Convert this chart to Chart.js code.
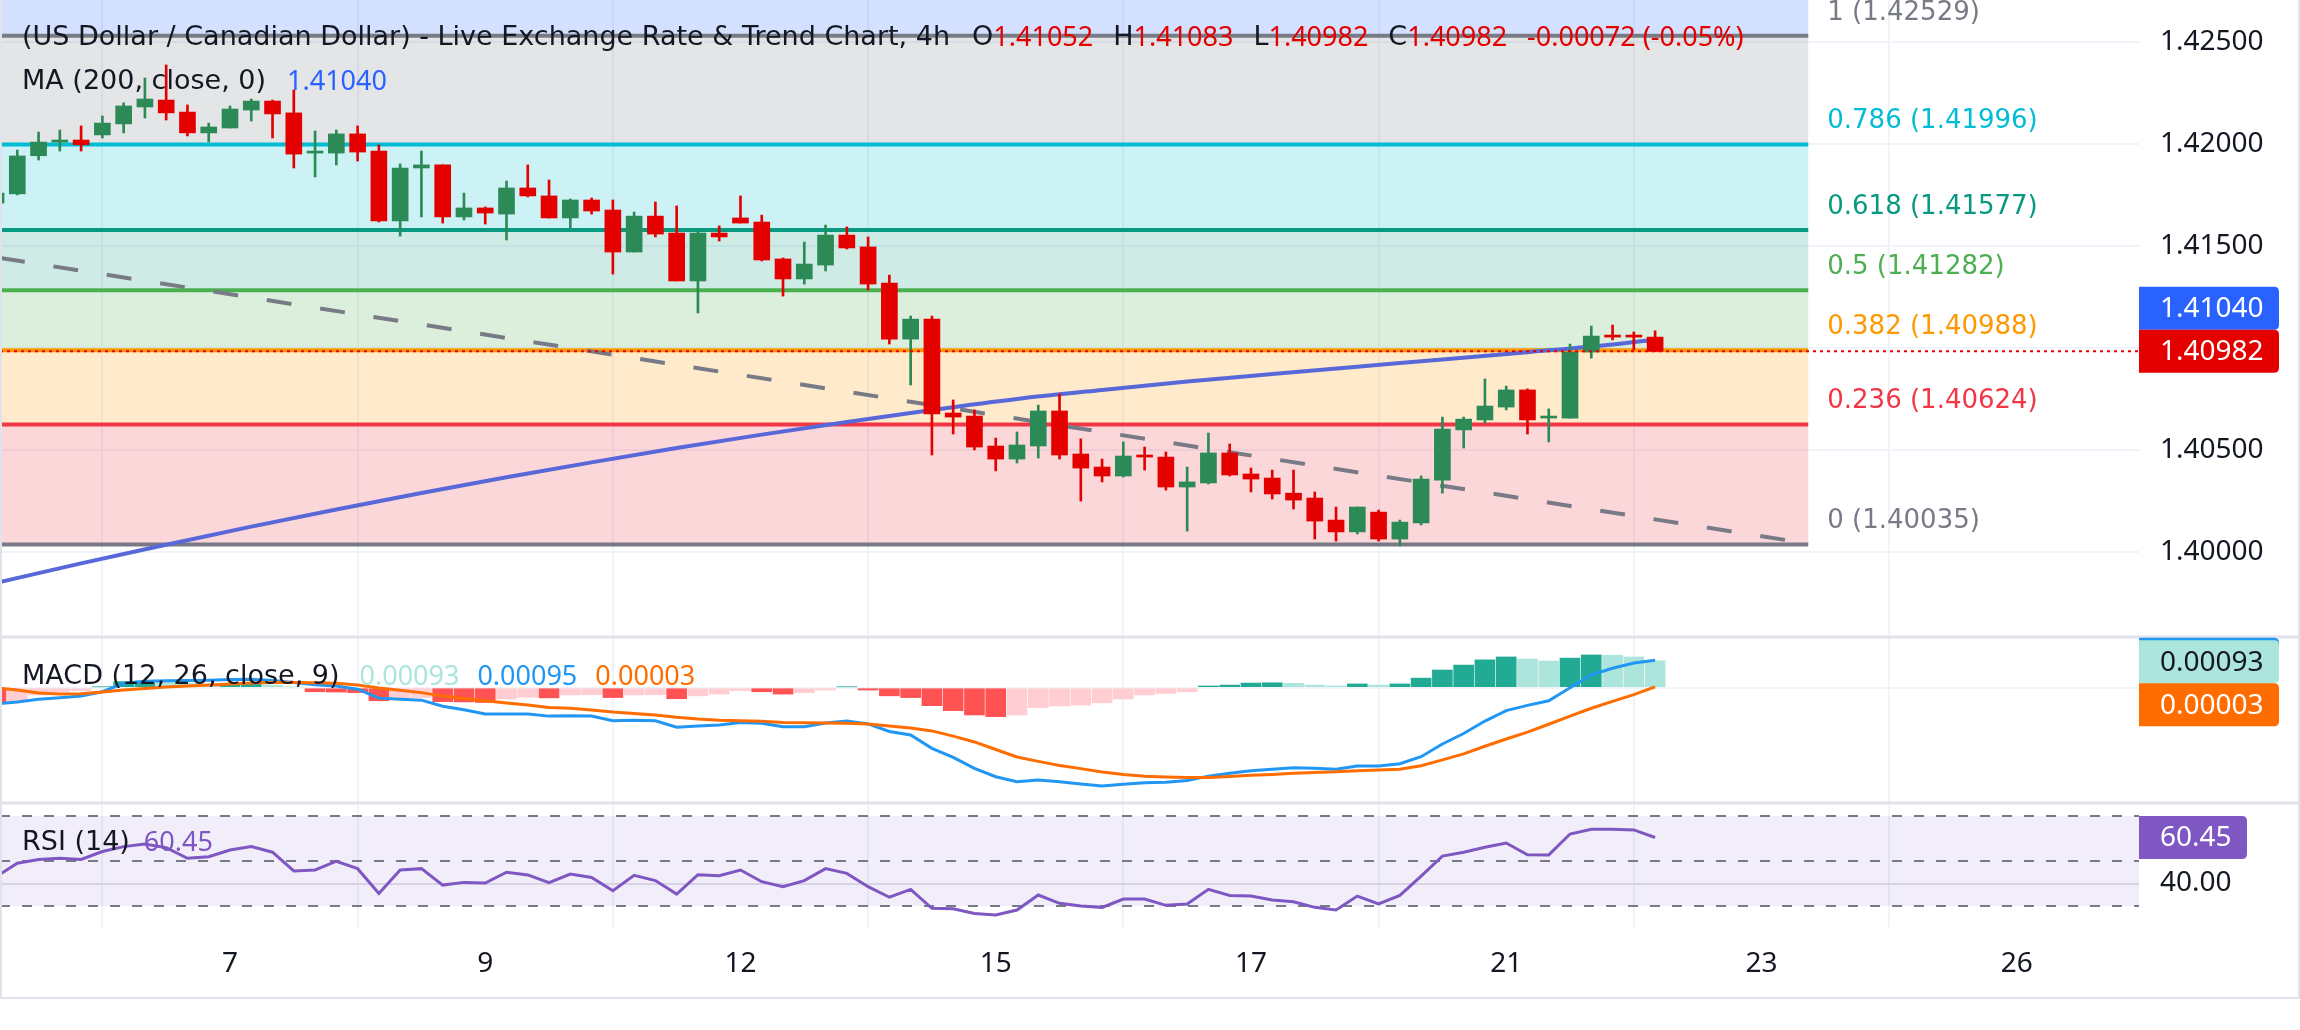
<!DOCTYPE html>
<html>
<head>
<meta charset="utf-8">
<title>USD/CAD 4h</title>
<script src="https://cdn.jsdelivr.net/npm/chart.js@4.4.1/dist/chart.umd.min.js"></script>
<style>
  html, body { margin: 0; padding: 0; background: #ffffff; }
  #wrap { position: relative; width: 2300px; height: 1030px; }
</style>
</head>
<body>
<div id="wrap"><canvas id="usdcad" width="2300" height="1030"></canvas></div>
<script>
// first candle sits at index -1 (half hidden on the left edge)
const candleStart = -1;

const openPrices = [
  1.41709,
  1.41754, 1.41941, 1.42008, 1.42018, 1.42043, 1.42097, 1.42180, 1.42214, 1.42155, 1.42053,
  1.42077, 1.42165, 1.42209, 1.42151, 1.41954, 1.41954, 1.42048, 1.41964, 1.41621, 1.41881,
  1.41896, 1.41641, 1.41685, 1.41655, 1.41783, 1.41744, 1.41636, 1.41724, 1.41675, 1.41469,
  1.41645, 1.41562, 1.41327, 1.41562, 1.41636, 1.41616, 1.41435, 1.41337, 1.41405, 1.41552,
  1.41494, 1.41317, 1.41042, 1.41140, 1.40680, 1.40665, 1.40518, 1.40454, 1.40518, 1.40690,
  1.40479, 1.40415, 1.40371, 1.40474, 1.40464, 1.40317, 1.40337, 1.40484, 1.40381, 1.40361,
  1.40287, 1.40263, 1.40155, 1.40097, 1.40194, 1.40062, 1.40141, 1.40351, 1.40597, 1.40646,
  1.40709, 1.40793, 1.40655, 1.40655, 1.40979, 1.41062, 1.41062, 1.41052
];
const highPrices = [
  1.41773,
  1.41969, 1.42057, 1.42067, 1.42087, 1.42136, 1.42200, 1.42322, 1.42386, 1.42190, 1.42101,
  1.42185, 1.42219, 1.42214, 1.42263, 1.42062, 1.42067, 1.42087, 1.41994, 1.41901, 1.41964,
  1.41896, 1.41758, 1.41690, 1.41817, 1.41896, 1.41822, 1.41729, 1.41734, 1.41724, 1.41665,
  1.41714, 1.41695, 1.41577, 1.41597, 1.41744, 1.41650, 1.41440, 1.41518, 1.41601, 1.41592,
  1.41543, 1.41356, 1.41155, 1.41155, 1.40744, 1.40695, 1.40557, 1.40587, 1.40719, 1.40773,
  1.40553, 1.40454, 1.40538, 1.40513, 1.40489, 1.40415, 1.40582, 1.40528, 1.40410, 1.40400,
  1.40400, 1.40293, 1.40219, 1.40219, 1.40204, 1.40155, 1.40371, 1.40660, 1.40660, 1.40847,
  1.40812, 1.40798, 1.40700, 1.41018, 1.41106, 1.41111, 1.41077, 1.41083
];
const lowPrices = [
  1.41695,
  1.41749, 1.41920, 1.41964, 1.41964, 1.42028, 1.42053, 1.42126, 1.42116, 1.42038, 1.42008,
  1.42077, 1.42111, 1.42028, 1.41881, 1.41837, 1.41896, 1.41915, 1.41616, 1.41547, 1.41641,
  1.41611, 1.41626, 1.41606, 1.41528, 1.41739, 1.41636, 1.41587, 1.41655, 1.41361, 1.41469,
  1.41543, 1.41327, 1.41170, 1.41523, 1.41611, 1.41425, 1.41253, 1.41312, 1.41376, 1.41484,
  1.41283, 1.41018, 1.40817, 1.40474, 1.40577, 1.40499, 1.40396, 1.40435, 1.40459, 1.40454,
  1.40248, 1.40342, 1.40366, 1.40400, 1.40302, 1.40101, 1.40332, 1.40371, 1.40293, 1.40258,
  1.40209, 1.40062, 1.40052, 1.40087, 1.40052, 1.40028, 1.40131, 1.40287, 1.40508, 1.40631,
  1.40695, 1.40577, 1.40538, 1.40655, 1.40949, 1.41038, 1.40989, 1.40982
];
const closePrices = [
  1.41758,
  1.41940, 1.42008, 1.42018, 1.41995, 1.42101, 1.42185, 1.42219, 1.42151, 1.42053, 1.42082,
  1.42170, 1.42209, 1.42146, 1.41949, 1.41964, 1.42048, 1.41959, 1.41621, 1.41881, 1.41896,
  1.41641, 1.41685, 1.41660, 1.41783, 1.41744, 1.41636, 1.41724, 1.41670, 1.41469, 1.41645,
  1.41557, 1.41327, 1.41562, 1.41543, 1.41611, 1.41430, 1.41337, 1.41410, 1.41552, 1.41489,
  1.41312, 1.41042, 1.41140, 1.40675, 1.40660, 1.40513, 1.40454, 1.40523, 1.40690, 1.40474,
  1.40410, 1.40371, 1.40469, 1.40464, 1.40317, 1.40342, 1.40484, 1.40376, 1.40356, 1.40283,
  1.40253, 1.40150, 1.40097, 1.40219, 1.40062, 1.40145, 1.40356, 1.40601, 1.40650, 1.40714,
  1.40793, 1.40646, 1.40665, 1.40979, 1.41057, 1.41052, 1.41052, 1.40982
];

// MA(200) read every few bars
const maIdx = [-1, 3, 7, 11, 15, 19, 23, 27, 31, 35, 39, 43, 47, 51, 55, 59, 63, 67, 71, 75, 77];
const maValues = [1.39847, 1.39943, 1.40034, 1.40123, 1.40207, 1.40288, 1.40365, 1.40438, 1.40508, 1.40574,
  1.40636, 1.40695, 1.40749, 1.40793, 1.40834, 1.40871, 1.40907, 1.40942, 1.40978, 1.41016, 1.41040];

// dashed trend line (two anchors)
const trendIdx = [-0.81, 84.2];
const trendValues = [1.41440, 1.40040];

// fibonacci retracement
const fibLevels = [1.618, 1, 0.786, 0.618, 0.5, 0.382, 0.236, 0];
const fibPrices = [1.44070, 1.42529, 1.41996, 1.41577, 1.41282, 1.40988, 1.40624, 1.40035];
const fibColors = ['#2962ff', '#787b86', '#00bcd4', '#089981', '#4caf50', '#ff9800', '#f23645', '#787b86'];
const fibFrom = -1;
const fibTo = 84.2;

// MACD (12, 26, 9)
const macdLine = [
  -0.00056,
  -0.00049, -0.00040, -0.00035, -0.00029, -0.00014, 0.00015, 0.00022, 0.00024, 0.00025, 0.00026,
  0.00028, 0.00029, 0.00025, 0.00018, 0.00010, 0.00006, -0.00005, -0.00036, -0.00040, -0.00043,
  -0.00064, -0.00076, -0.00091, -0.00091, -0.00091, -0.00098, -0.00097, -0.00098, -0.00114, -0.00112,
  -0.00114, -0.00136, -0.00132, -0.00129, -0.00120, -0.00123, -0.00135, -0.00135, -0.00122, -0.00115,
  -0.00125, -0.00151, -0.00163, -0.00209, -0.00240, -0.00278, -0.00307, -0.00324, -0.00318, -0.00324,
  -0.00332, -0.00339, -0.00333, -0.00328, -0.00326, -0.00320, -0.00305, -0.00295, -0.00286, -0.00281,
  -0.00276, -0.00278, -0.00281, -0.00270, -0.00270, -0.00262, -0.00238, -0.00194, -0.00158, -0.00115,
  -0.00079, -0.00061, -0.00045, 0.00000, 0.00044, 0.00067, 0.00085, 0.00095
];
const signalLine = [
  0.00000,
  -0.00008, -0.00018, -0.00022, -0.00021, -0.00015, -0.00008, -0.00003, 0.00002, 0.00006, 0.00009,
  0.00013, 0.00016, 0.00018, 0.00018, 0.00017, 0.00015, 0.00009, -0.00001, -0.00009, -0.00017,
  -0.00029, -0.00037, -0.00045, -0.00053, -0.00060, -0.00068, -0.00071, -0.00077, -0.00084, -0.00089,
  -0.00094, -0.00102, -0.00108, -0.00112, -0.00114, -0.00116, -0.00120, -0.00121, -0.00122, -0.00123,
  -0.00125, -0.00132, -0.00139, -0.00149, -0.00167, -0.00187, -0.00213, -0.00239, -0.00254, -0.00268,
  -0.00279, -0.00291, -0.00299, -0.00305, -0.00308, -0.00310, -0.00310, -0.00306, -0.00302, -0.00299,
  -0.00295, -0.00292, -0.00290, -0.00286, -0.00284, -0.00281, -0.00269, -0.00249, -0.00228, -0.00202,
  -0.00177, -0.00153, -0.00126, -0.00098, -0.00071, -0.00047, -0.00024, 0.00003
];
const macdHist = [
  -0.00050,
  -0.00048, -0.00025, -0.00014, -0.00010, 0.00003, 0.00021, 0.00023, 0.00022, 0.00016, 0.00012,
  0.00015, 0.00016, 0.00009, 0.00003, -0.00014, -0.00015, -0.00017, -0.00045, -0.00037, -0.00034,
  -0.00048, -0.00049, -0.00051, -0.00039, -0.00033, -0.00035, -0.00025, -0.00024, -0.00034, -0.00025,
  -0.00024, -0.00038, -0.00028, -0.00022, -0.00010, -0.00014, -0.00022, -0.00017, -0.00008, 0.00003,
  -0.00008, -0.00028, -0.00034, -0.00062, -0.00079, -0.00094, -0.00100, -0.00094, -0.00069, -0.00063,
  -0.00060, -0.00052, -0.00039, -0.00025, -0.00020, -0.00014, 0.00006, 0.00009, 0.00016, 0.00017,
  0.00015, 0.00009, 0.00006, 0.00013, 0.00009, 0.00013, 0.00033, 0.00061, 0.00078, 0.00096,
  0.00106, 0.00099, 0.00092, 0.00102, 0.00113, 0.00112, 0.00106, 0.00093
];

// RSI (14)
const rsiValues = [
  43.0,
  49.0, 50.7, 51.2, 50.7, 54.2, 56.4, 57.6, 55.9, 51.2, 51.9,
  54.9, 56.4, 53.9, 45.6, 46.0, 49.9, 46.6, 35.6, 46.0, 46.6,
  39.3, 40.5, 40.2, 45.0, 43.8, 40.4, 44.2, 42.7, 36.8, 43.6,
  41.3, 35.3, 43.9, 43.5, 46.0, 40.8, 38.6, 41.3, 46.6, 44.5,
  38.6, 33.9, 37.4, 29.0, 28.8, 26.7, 26.0, 28.2, 34.9, 31.2,
  30.0, 29.4, 33.1, 33.1, 30.3, 30.9, 37.4, 34.7, 34.4, 32.7,
  31.9, 29.4, 28.2, 34.4, 30.9, 34.7, 43.3, 52.2, 53.9, 56.1,
  58.0, 52.8, 52.7, 62.0, 64.1, 64.1, 63.8, 60.45
];
const rsiBands = [70, 50, 30];

// axes
const xTickIdx = [10, 22, 34, 46, 58, 70, 82, 94];
const xTickLabels = ['7', '9', '12', '15', '17', '21', '23', '26'];
const priceTicks = [1.400, 1.405, 1.410, 1.415, 1.420, 1.425];
const macdTicks = [0];
const rsiTicks = [40];

const legendTitle = '(US Dollar / Canadian Dollar) - Live Exchange Rate & Trend Chart, 4h';
const legendOHLC = [['O', '1.41052'], ['H', '1.41083'], ['L', '1.40982'], ['C', '1.40982']];
const legendChange = '-0.00072 (-0.05%)';

const FONT = '"Noto Sans", "DejaVu Sans", sans-serif';
const LEGEND_FONT = '27px "DejaVu Sans", sans-serif';
const NUM_FONT = '27px "Noto Sans", sans-serif';
const FIB_FONT = '26px "DejaVu Sans", sans-serif';
const TEXT_DARK = '#131722';
const UP = '#2c8a56';
const DOWN = '#e50000';
const GRID = '#f0f3fa';

const idx = openPrices.map((_, i) => i + candleStart);
const candleColors = openPrices.map((o, i) => closePrices[i] >= o ? UP : DOWN);
const last = openPrices.length - 1;

function histColor(v, i) {
  const prev = i > 0 ? macdHist[i - 1] : v;
  if (v >= 0) return v > prev ? '#22ab94' : '#ace5dc';
  return v > prev ? '#ffcdd2' : '#ff5252';
}

function boxPath(ctx, x, y, w, h, r) {
  ctx.beginPath();
  ctx.moveTo(x, y);
  ctx.lineTo(x + w - r, y);
  ctx.quadraticCurveTo(x + w, y, x + w, y + r);
  ctx.lineTo(x + w, y + h - r);
  ctx.quadraticCurveTo(x + w, y + h, x + w - r, y + h);
  ctx.lineTo(x, y + h);
  ctx.closePath();
}

function axisBox(ctx, x, top, w, h, bg, fg, text) {
  ctx.fillStyle = bg;
  boxPath(ctx, x, top, w, h, 5);
  ctx.fill();
  ctx.fillStyle = fg;
  ctx.font = '28px ' + FONT;
  ctx.textAlign = 'left';
  ctx.textBaseline = 'middle';
  ctx.fillText(text, x + 21, top + h / 2 + 1);
}

// draws text pieces one after another, returns end x
function drawPieces(ctx, x, y, pieces) {
  ctx.textAlign = 'left';
  ctx.textBaseline = 'middle';
  pieces.forEach(p => {
    x += p.gap || 0;
    ctx.font = p.num ? NUM_FONT : LEGEND_FONT;
    ctx.fillStyle = p.color;
    ctx.fillText(p.text, x, y);
    x += ctx.measureText(p.text).width;
  });
  return x;
}

// fixed axis sizes, no extra label padding around the plot
function fixRightAxis(s) {
  s.width = 161;
  s.paddingTop = 0;
  s.paddingBottom = 0;
}

const backgroundPlugin = {
  id: 'panesBackground',
  beforeDatasetsDraw(chart) {
    const { ctx, chartArea } = chart;
    const xs = chart.scales.x;
    const ys = chart.scales.y;
    const yr = chart.scales.yRsi;
    const x0 = xs.getPixelForValue(fibFrom);
    const x1 = xs.getPixelForValue(fibTo);

    ctx.save();
    ctx.beginPath();
    ctx.rect(chartArea.left, ys.top, chartArea.right - chartArea.left, ys.bottom - ys.top);
    ctx.clip();
    for (let i = 0; i < fibPrices.length - 1; i++) {
      const a = ys.getPixelForValue(fibPrices[i]);
      const b = ys.getPixelForValue(fibPrices[i + 1]);
      ctx.fillStyle = fibColors[i] + '33';
      ctx.fillRect(x0, a, x1 - x0, b - a);
    }
    ctx.lineWidth = 4;
    fibPrices.forEach((p, i) => {
      const py = ys.getPixelForValue(p);
      ctx.strokeStyle = fibColors[i];
      ctx.beginPath();
      ctx.moveTo(x0, py);
      ctx.lineTo(x1, py);
      ctx.stroke();
    });
    ctx.restore();

    // RSI band
    ctx.save();
    const rTop = yr.getPixelForValue(rsiBands[0]);
    const rBot = yr.getPixelForValue(rsiBands[rsiBands.length - 1]);
    ctx.fillStyle = 'rgba(126, 87, 194, 0.1)';
    ctx.fillRect(chartArea.left, rTop, chartArea.right - chartArea.left, rBot - rTop);
    ctx.strokeStyle = '#787b86';
    ctx.lineWidth = 2;
    ctx.setLineDash([10, 12]);
    rsiBands.forEach(v => {
      const py = Math.round(yr.getPixelForValue(v));
      ctx.beginPath();
      ctx.moveTo(chartArea.left, py);
      ctx.lineTo(chartArea.right, py);
      ctx.stroke();
    });
    ctx.restore();
  },
  afterDatasetsDraw(chart) {
    const { ctx, chartArea } = chart;
    const ys = chart.scales.y;
    const py = ys.getPixelForValue(closePrices[last]);
    ctx.save();
    ctx.strokeStyle = DOWN;
    ctx.lineWidth = 2;
    ctx.setLineDash([3, 4]);
    ctx.beginPath();
    ctx.moveTo(chartArea.left, py);
    ctx.lineTo(chartArea.right, py);
    ctx.stroke();
    ctx.restore();
  }
};

const overlayPlugin = {
  id: 'overlay',
  afterDraw(chart) {
    const { ctx, chartArea, width } = chart;
    const xs = chart.scales.x;
    const ys = chart.scales.y;
    const ym = chart.scales.yMacd;
    const yr = chart.scales.yRsi;
    ctx.save();

    // fib labels
    const lx = xs.getPixelForValue(fibTo) + 19;
    ctx.font = FIB_FONT;
    ctx.textAlign = 'left';
    ctx.textBaseline = 'middle';
    fibPrices.forEach((p, i) => {
      const py = ys.getPixelForValue(p);
      if (py < ys.top || py > ys.bottom) return;
      ctx.fillStyle = fibColors[i];
      ctx.fillText(fibLevels[i] + ' (' + p.toFixed(5) + ')', lx, py - 23);
    });

    // pane separators and frame
    ctx.strokeStyle = '#e0e3eb';
    ctx.lineWidth = 3;
    [ym.top, yr.top].forEach(y => {
      ctx.beginPath();
      ctx.moveTo(0, y);
      ctx.lineTo(width, y);
      ctx.stroke();
    });
    ctx.lineWidth = 2;
    ctx.beginPath();
    ctx.moveTo(1, 0);
    ctx.lineTo(1, xs.bottom);
    ctx.lineTo(width - 1, xs.bottom);
    ctx.lineTo(width - 1, 0);
    ctx.stroke();

    // legends
    const lx0 = 22;
    const pieces = [{ text: legendTitle, color: TEXT_DARK }];
    legendOHLC.forEach((o, i) => {
      pieces.push({ text: o[0], color: TEXT_DARK, gap: i === 0 ? 22 : 20 });
      pieces.push({ text: o[1], color: DOWN, num: true });
    });
    pieces.push({ text: legendChange, color: DOWN, gap: 20, num: true });
    drawPieces(ctx, lx0, ys.top + 38, pieces);
    drawPieces(ctx, lx0, ys.top + 82, [
      { text: 'MA (200, close, 0)', color: TEXT_DARK },
      { text: maValues[maValues.length - 1].toFixed(5), color: '#2962ff', gap: 21, num: true }
    ]);
    drawPieces(ctx, lx0, ym.top + 40, [
      { text: 'MACD (12, 26, close, 9)', color: TEXT_DARK },
      { text: macdHist[last].toFixed(5), color: '#ace5dc', gap: 20, num: true },
      { text: macdLine[last].toFixed(5), color: '#2196f3', gap: 18, num: true },
      { text: signalLine[last].toFixed(5), color: '#ff6d00', gap: 18, num: true }
    ]);
    drawPieces(ctx, lx0, yr.top + 40, [
      { text: 'RSI (14)', color: TEXT_DARK },
      { text: rsiValues[last].toFixed(2), color: '#7e57c2', gap: 14, num: true }
    ]);

    // price scale labels
    const bx = chartArea.right;
    const h = 43;
    const closeY = ys.getPixelForValue(closePrices[last]);
    axisBox(ctx, bx, closeY - h / 2 - h, 140, h, '#2962ff', '#ffffff', maValues[maValues.length - 1].toFixed(5));
    axisBox(ctx, bx, closeY - h / 2, 140, h, DOWN, '#ffffff', closePrices[last].toFixed(5));

    const histY = ym.getPixelForValue(macdHist[last]);
    axisBox(ctx, bx, ym.getPixelForValue(macdLine[last]) - h / 2 - 1, 140, h, '#2196f3', '#ffffff', '');
    axisBox(ctx, bx, histY - h / 2 + 1, 140, h, '#ace5dc', TEXT_DARK, macdHist[last].toFixed(5));
    axisBox(ctx, bx, histY + h / 2 + 1, 140, h, '#ff6d00', '#ffffff', signalLine[last].toFixed(5));

    const rsiY = yr.getPixelForValue(rsiValues[last]);
    axisBox(ctx, bx, rsiY - h / 2, 108, h, '#7e57c2', '#ffffff', rsiValues[last].toFixed(2));

    ctx.restore();
  }
};

const ctx = document.getElementById('usdcad').getContext('2d');
const chart = new Chart(ctx, {
  type: 'bar',
  data: {
    datasets: [
      {
        label: 'body',
        data: idx.map((x, i) => ({ x: x, y: [openPrices[i], closePrices[i]] })),
        backgroundColor: candleColors,
        barThickness: 16,
        minBarLength: 2,
        grouped: false,
        yAxisID: 'y',
        order: 1
      },
      {
        label: 'wick',
        data: idx.map((x, i) => ({ x: x, y: [lowPrices[i], highPrices[i]] })),
        backgroundColor: candleColors,
        barThickness: 2,
        grouped: false,
        yAxisID: 'y',
        order: 2
      },
      {
        type: 'line',
        label: 'MA 200',
        data: maIdx.map((x, i) => ({ x: x, y: maValues[i] })),
        borderColor: '#5868d8',
        borderWidth: 4,
        pointRadius: 0,
        cubicInterpolationMode: 'monotone',
        yAxisID: 'y',
        order: 3
      },
      {
        type: 'line',
        label: 'trend',
        data: trendIdx.map((x, i) => ({ x: x, y: trendValues[i] })),
        borderColor: '#787b86',
        borderWidth: 4,
        borderDash: [25, 29],
        pointRadius: 0,
        yAxisID: 'y',
        order: 4
      },
      {
        label: 'histogram',
        data: idx.map((x, i) => ({ x: x, y: macdHist[i] })),
        backgroundColor: macdHist.map(histColor),
        barThickness: 20,
        grouped: false,
        yAxisID: 'yMacd',
        order: 7
      },
      {
        type: 'line',
        label: 'MACD',
        data: idx.map((x, i) => ({ x: x, y: macdLine[i] })),
        borderColor: '#2196f3',
        borderWidth: 3,
        pointRadius: 0,
        yAxisID: 'yMacd',
        order: 6
      },
      {
        type: 'line',
        label: 'Signal',
        data: idx.map((x, i) => ({ x: x, y: signalLine[i] })),
        borderColor: '#ff6d00',
        borderWidth: 3,
        pointRadius: 0,
        yAxisID: 'yMacd',
        order: 5
      },
      {
        type: 'line',
        label: 'RSI',
        data: idx.map((x, i) => ({ x: x, y: rsiValues[i] })),
        borderColor: '#7e57c2',
        borderWidth: 3,
        pointRadius: 0,
        yAxisID: 'yRsi',
        order: 8
      }
    ]
  },
  options: {
    responsive: false,
    animation: false,
    devicePixelRatio: 1,
    layout: { padding: { left: 0, right: 0, top: 0, bottom: 32 } },
    plugins: { legend: { display: false }, tooltip: { enabled: false } },
    scales: {
      x: {
        type: 'linear',
        min: -0.813,
        max: 99.75,
        offset: false,
        border: { display: false },
        grid: { color: GRID, lineWidth: 2, drawTicks: false },
        ticks: {
          autoSkip: false,
          maxRotation: 0,
          padding: 20,
          color: TEXT_DARK,
          font: { family: 'Noto Sans', size: 28 },
          callback: v => {
            const i = xTickIdx.indexOf(v);
            return i >= 0 ? xTickLabels[i] : '';
          }
        },
        afterBuildTicks: s => { s.ticks = xTickIdx.map(v => ({ value: v })); },
        afterFit: s => { s.height = 71; s.paddingLeft = 0; s.paddingRight = 0; }
      },
      y: {
        type: 'linear',
        position: 'right',
        stack: 'panes',
        stackWeight: 637,
        weight: 1,
        min: 1.3958186,
        max: 1.427044,
        border: { display: false },
        grid: { color: GRID, lineWidth: 2, drawTicks: false },
        ticks: {
          padding: 21,
          color: TEXT_DARK,
          font: { family: 'Noto Sans', size: 28 },
          callback: v => Number(v).toFixed(5)
        },
        afterBuildTicks: s => { s.ticks = priceTicks.map(v => ({ value: v })); },
        afterFit: fixRightAxis
      },
      yMacd: {
        type: 'linear',
        position: 'right',
        stack: 'panes',
        stackWeight: 166,
        weight: 2,
        min: -0.0039759,
        max: 0.0017483,
        border: { display: false },
        grid: { color: GRID, lineWidth: 2, drawTicks: false },
        ticks: { display: false },
        afterBuildTicks: s => { s.ticks = macdTicks.map(v => ({ value: v })); },
        afterFit: fixRightAxis
      },
      yRsi: {
        type: 'linear',
        position: 'right',
        stack: 'panes',
        stackWeight: 124,
        weight: 3,
        min: 20.67,
        max: 75.78,
        border: { display: false },
        grid: { color: '#e3e0ea', lineWidth: 2, drawTicks: false },
        ticks: {
          padding: 21,
          color: TEXT_DARK,
          font: { family: 'Noto Sans', size: 28 },
          callback: v => Number(v).toFixed(2)
        },
        afterBuildTicks: s => { s.ticks = rsiTicks.map(v => ({ value: v })); },
        afterFit: fixRightAxis
      }
    }
  },
  plugins: [backgroundPlugin, overlayPlugin]
});
</script>
</body>
</html>
